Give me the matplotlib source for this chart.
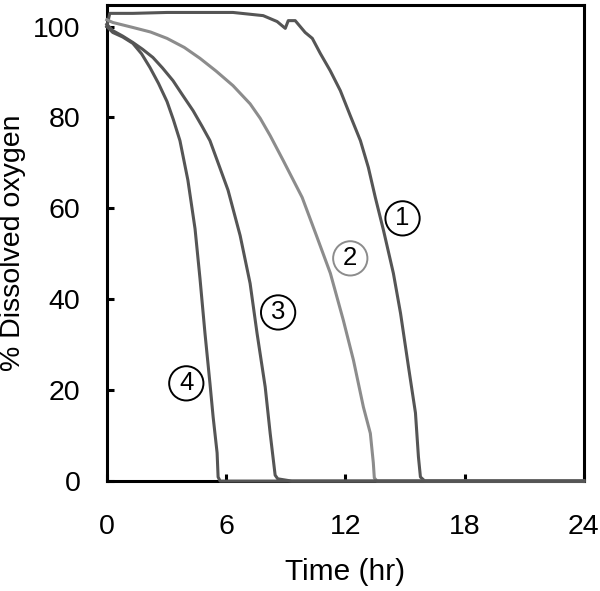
import matplotlib
matplotlib.use("Agg")
import matplotlib.pyplot as plt

plt.rcParams['font.family'] = ['Liberation Sans', 'DejaVu Sans']

# Curve 1
t1 = [0.0, 0.15, 1.31, 3.03, 6.35, 7.87, 8.57, 8.98, 9.13, 9.48, 9.98, 10.34, 10.74,
      11.24, 11.75, 12.25, 12.76, 13.16, 13.51, 13.92, 14.42, 14.78, 15.18, 15.53,
      15.68, 15.78, 16.0, 24.0]
y1 = [100.0, 102.9, 102.9, 103.1, 103.1, 102.4, 101.1, 99.6, 101.3, 101.3, 98.7, 97.4,
      94.1, 90.3, 85.9, 80.4, 74.9, 69.0, 62.4, 55.2, 45.7, 36.9, 25.1, 15.0, 5.3, 0.9,
      0.0, 0.0]
# Curve 2
t2 = [0.0, 0.30, 1.31, 2.2, 3.03, 3.9, 4.69, 5.5, 6.35, 7.21, 7.72, 8.22, 8.88, 9.83,
      10.54, 11.25, 11.90, 12.41, 12.91, 13.26, 13.41, 13.46, 13.6, 24.0]
y2 = [101.5, 100.9, 99.8, 98.8, 97.4, 95.4, 93.0, 90.2, 87.0, 83.0, 79.8, 76.0, 70.5,
      62.4, 54.1, 45.7, 35.4, 26.6, 16.3, 10.5, 4.0, 0.7, 0.0, 0.0]
# Curve 3
t3 = [0.0, 0.30, 0.8, 1.31, 1.8, 2.32, 2.8, 3.33, 3.8, 4.34, 4.8, 5.19, 5.6, 6.10,
      6.71, 7.21, 7.56, 7.97, 8.22, 8.47, 8.6, 9.3, 24.0]
y3 = [100.5, 99.1, 97.9, 96.5, 95.0, 93.2, 90.9, 88.1, 85.0, 81.5, 78.0, 74.9, 70.0,
      64.0, 54.0, 43.5, 32.5, 20.7, 10.5, 1.3, 0.5, 0.0, 0.0]
# Curve 4
t4 = [0.0, 0.30, 0.8, 1.31, 1.75, 2.17, 2.6, 3.03, 3.35, 3.68, 4.08, 4.44, 4.69, 4.94,
      5.19, 5.35, 5.55, 5.60, 5.7, 24.0]
y4 = [100.0, 98.7, 97.7, 96.3, 94.0, 91.0, 87.5, 83.5, 79.5, 74.9, 66.2, 55.5, 44.5,
      32.5, 21.5, 14.1, 6.2, 0.9, 0.0, 0.0]

labels = ['1', '2', '3', '4']
label_x = [14.88, 12.25, 8.62, 4.0]
label_y = [57.8, 49.0, 37.1, 21.5]

xticks = [0, 6, 12, 18, 24]
yticks = [0, 20, 40, 60, 80, 100]

fig = plt.figure(figsize=(6.0, 5.91), dpi=100)
ax = fig.add_axes([0.178, 0.186, 0.795, 0.806])

dark = '#555555'
light = '#8c8c8c'
for t, y, c in [(t1, y1, dark), (t2, y2, light), (t3, y3, dark), (t4, y4, dark)]:
    ax.plot(t, y, color=c, lw=2.2, zorder=3, clip_on=False, solid_joinstyle='round')

edge_cols = ['black', light, 'black', 'black']
for lab, lx, ly, ec in zip(labels, label_x, label_y, edge_cols):
    ax.text(lx, ly, lab, ha='center', va='center', fontsize=18.5, color='black',
            bbox=dict(boxstyle='circle,pad=0.2', fc='white', ec=ec, lw=1.4), zorder=4)

ax.set_xlim(0, 24)
ax.set_ylim(0, 104.8)
ax.set_xticks(xticks)
ax.set_yticks(yticks)
ax.tick_params(direction='in', length=5, width=2.2, labelsize=20.5)
ax.tick_params(axis='x', pad=24)
ax.tick_params(axis='y', pad=19)
for s in ax.spines.values():
    s.set_linewidth(2.2)
    s.set_color('black')

ax.set_xlabel('Time (hr)', fontsize=21.5, va='center')
ax.set_ylabel('% Dissolved oxygen', fontsize=20.5, va='center')
ax.xaxis.set_label_coords(0.5, -0.191)
ax.yaxis.set_label_coords(-0.197, 0.5)

fig.savefig('out.png', dpi=100)
